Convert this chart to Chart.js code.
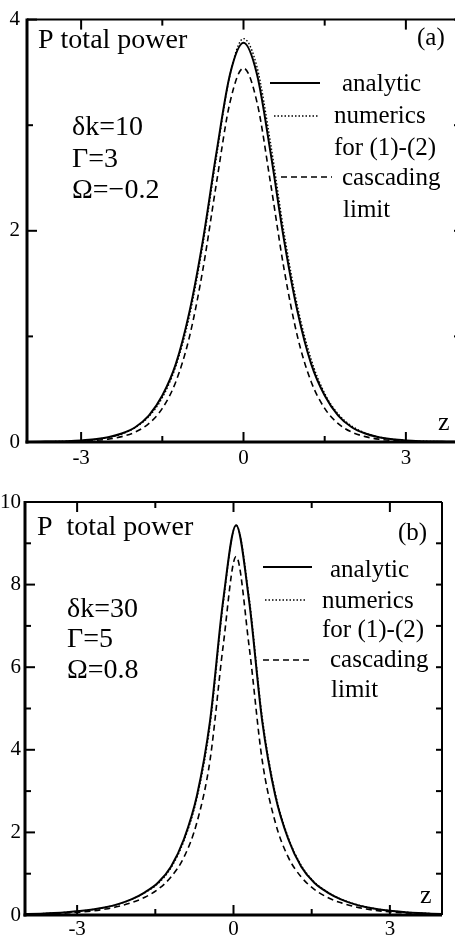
<!DOCTYPE html>
<html>
<head>
<meta charset="utf-8">
<script src="https://cdn.jsdelivr.net/npm/chart.js@4.4.1/dist/chart.umd.min.js"></script>
<style>
  html, body { margin: 0; padding: 0; background: #fff; overflow: hidden; }
  body { width: 455px; height: 939px; position: relative; }
  canvas { position: absolute; left: 0; }
  #chartA { top: 0; }
  #chartB { top: 470px; }
</style>
</head>
<body>
<canvas id="chartA" width="462" height="470"></canvas>
<canvas id="chartB" width="455" height="469"></canvas>
<script>
// panel (a): dk=10, G=3, W=-0.2
const zA = [-4, -3.75, -3.5, -3.25, -3, -2.75, -2.5, -2.25, -2, -1.75, -1.5, -1.25, -1, -0.75, -0.5, -0.25,
  0, 0.25, 0.5, 0.75, 1, 1.25, 1.5, 1.75, 2, 2.25, 2.5, 2.75, 3, 3.25, 3.5, 3.75, 4];
const analyticA = [0.001, 0.003, 0.005, 0.008, 0.014, 0.025, 0.045, 0.08, 0.14, 0.25, 0.44, 0.74, 1.23, 1.91, 2.74, 3.48,
  3.78, 3.48, 2.74, 1.91, 1.23, 0.74, 0.44, 0.25, 0.14, 0.08, 0.045, 0.025, 0.014, 0.008, 0.005, 0.003, 0.001];
const numericsA = [0.0013, 0.0024, 0.0042, 0.0075, 0.013, 0.024, 0.043, 0.076, 0.137, 0.24, 0.42, 0.718, 1.19, 1.87, 2.70, 3.475,
  3.82, 3.55, 2.83, 1.98, 1.28, 0.783, 0.46, 0.265, 0.151, 0.085, 0.047, 0.026, 0.015, 0.0085, 0.0048, 0.0026, 0.0015];
const cascadingA = [0.0006, 0.0012, 0.0022, 0.0042, 0.0078, 0.0146, 0.027, 0.051, 0.094, 0.174, 0.318, 0.571, 0.993, 1.635, 2.451, 3.216,
  3.54, 3.216, 2.451, 1.635, 0.993, 0.571, 0.318, 0.174, 0.094, 0.051, 0.027, 0.0146, 0.0078, 0.0042, 0.0022, 0.0012, 0.0006];

// panel (b): dk=30, G=5, W=0.8
const zB = [-4.2, -3.95, -3.7, -3.45, -3.2, -2.95, -2.7, -2.45, -2.2, -1.95, -1.7, -1.45, -1.2, -0.95, -0.7, -0.45, -0.2,
  0.05, 0.3, 0.55, 0.8, 1.05, 1.3, 1.55, 1.8, 2.05, 2.3, 2.55, 2.8, 3.05, 3.3, 3.55, 3.8, 4.05, 4.3];
const analyticB = [0.016, 0.023, 0.033, 0.047, 0.067, 0.095, 0.135, 0.19, 0.27, 0.385, 0.55, 0.78, 1.17, 1.84, 2.9, 4.7, 7.6,
  9.44, 7.6, 4.7, 2.9, 1.84, 1.17, 0.78, 0.55, 0.385, 0.27, 0.19, 0.135, 0.095, 0.067, 0.047, 0.033, 0.023, 0.016];
const numericsB = [0.016, 0.022, 0.032, 0.046, 0.066, 0.094, 0.133, 0.187, 0.265, 0.38, 0.54, 0.76, 1.14, 1.8, 2.84, 4.6, 7.52,
  9.44, 7.68, 4.8, 2.96, 1.88, 1.2, 0.8, 0.56, 0.39, 0.275, 0.193, 0.137, 0.096, 0.068, 0.048, 0.034, 0.023, 0.016];
const cascadingB = [0.012, 0.017, 0.024, 0.034, 0.049, 0.07, 0.10, 0.145, 0.21, 0.30, 0.43, 0.62, 0.92, 1.4, 2.25, 3.75, 6.5,
  8.68, 6.5, 3.75, 2.25, 1.4, 0.92, 0.62, 0.43, 0.30, 0.21, 0.145, 0.10, 0.07, 0.049, 0.034, 0.024, 0.017, 0.012];

const xTicks = [-3, -1.5, 0, 1.5, 3];
const xMajor = [-3, 0, 3];
const yTicksA = [0, 1, 2, 3, 4];
const yTicksB = [0, 1, 2, 3, 4, 5, 6, 7, 8, 9, 10];

const serif = "'Liberation Serif', 'DejaVu Serif', 'Times New Roman', serif";

function toPoints(xs, ys) {
  return xs.map((x, i) => ({ x, y: ys[i] }));
}

function makeDatasets(z, analytic, numerics, cascading) {
  const common = { pointRadius: 0, fill: false, cubicInterpolationMode: "monotone", borderColor: "#000" };
  return [
    { ...common, label: "cascading limit", data: toPoints(z, cascading), borderWidth: 1.6, borderDash: [6, 4] },
    { ...common, label: "analytic", data: toPoints(z, analytic), borderWidth: 2 },
    { ...common, label: "numerics for (1)-(2)", data: toPoints(z, numerics), borderWidth: 1.4, borderDash: [1.5, 2] },
  ];
}

// box, inward ticks, annotations and hand-drawn legend
const framePlugin = {
  id: "frame",
  afterDatasetsDraw(chart, args, opts) {
    const { ctx, chartArea: a, scales: { x, y } } = chart;
    ctx.save();
    ctx.strokeStyle = "#000";
    ctx.fillStyle = "#000";
    const seg = (x1, y1, x2, y2) => {
      ctx.beginPath();
      ctx.moveTo(x1, y1);
      ctx.lineTo(x2, y2);
      ctx.stroke();
    };
    ctx.lineWidth = 2;
    seg(a.left, a.top, a.right, a.top);
    seg(a.right, a.top, a.right, a.bottom);
    ctx.lineWidth = 3;
    seg(a.left, a.top - 1, a.left, a.bottom + 1.5);
    seg(a.left - 1.5, a.bottom, a.right, a.bottom);

    ctx.lineWidth = 2;
    xTicks.forEach((v) => {
      const px = x.getPixelForValue(v);
      const len = xMajor.includes(v) ? 10 : 6;
      seg(px, a.bottom, px, a.bottom - len);
      seg(px, a.top, px, a.top + len);
    });
    opts.yTicks.forEach((v) => {
      const py = y.getPixelForValue(v);
      const len = v % 2 === 0 ? 10 : 6;
      seg(a.left, py, a.left + len, py);
      seg(a.right, py, a.right - 6, py);
    });

    ctx.textBaseline = "alphabetic";
    opts.texts.forEach((t) => {
      ctx.font = `${t.size}px ${serif}`;
      ctx.fillText(t.text, t.x, t.y);
    });

    opts.legend.forEach((l) => {
      ctx.lineWidth = l.width;
      ctx.setLineDash(l.dash);
      seg(l.x1, l.y, l.x2, l.y);
    });
    ctx.setLineDash([]);
    ctx.restore();
  },
};

function makeChart(id, cfg) {
  return new Chart(document.getElementById(id), {
    type: "line",
    data: { datasets: makeDatasets(cfg.z, cfg.analytic, cfg.numerics, cfg.cascading) },
    options: {
      responsive: false,
      animation: false,
      layout: { padding: cfg.padding },
      plugins: { legend: { display: false }, tooltip: { enabled: false }, frame: cfg.frame },
      scales: {
        x: {
          type: "linear",
          min: -4,
          max: 4,
          grid: { display: false, drawTicks: false },
          border: { display: false },
          afterBuildTicks: (s) => { s.ticks = xTicks.map((v) => ({ value: v })); },
          afterFit: (s) => { s.height = cfg.xHeight; },
          ticks: {
            autoSkip: false,
            maxRotation: 0,
            padding: cfg.xPad,
            color: "#000",
            font: { family: serif, size: 21 },
            callback: (v) => (xMajor.includes(v) ? String(v) : ""),
          },
        },
        y: {
          type: "linear",
          min: 0,
          max: cfg.yMax,
          grid: { display: false, drawTicks: false },
          border: { display: false },
          afterBuildTicks: (s) => { s.ticks = cfg.yTicks.map((v) => ({ value: v })); },
          afterFit: (s) => { s.width = cfg.yWidth; },
          ticks: {
            autoSkip: false,
            padding: cfg.yPad,
            color: "#000",
            font: { family: serif, size: 21 },
            callback: (v) => (v % 2 === 0 ? String(v) : ""),
          },
        },
      },
    },
    plugins: [framePlugin],
  });
}

makeChart("chartA", {
  z: zA, analytic: analyticA, numerics: numericsA, cascading: cascadingA,
  yMax: 4, yTicks: yTicksA,
  padding: { left: 0, top: 13, right: 2, bottom: 0 },
  xHeight: 28, yWidth: 27, xPad: 4, yPad: 7,
  frame: {
    yTicks: yTicksA,
    texts: [
      { text: "P total power", x: 38, y: 48, size: 28 },
      { text: "δk=10", x: 72, y: 135, size: 28 },
      { text: "Γ=3", x: 72, y: 167, size: 28 },
      { text: "Ω=−0.2", x: 72, y: 198, size: 28 },
      { text: "(a)", x: 417, y: 45, size: 25 },
      { text: "analytic", x: 342, y: 91, size: 25 },
      { text: "numerics", x: 334, y: 123, size: 25 },
      { text: "for (1)-(2)", x: 334, y: 155, size: 25 },
      { text: "cascading", x: 342, y: 185, size: 25 },
      { text: "limit", x: 343, y: 217, size: 25 },
      { text: "z", x: 438, y: 430, size: 26 },
    ],
    legend: [
      { x1: 270, x2: 320, y: 83, width: 2, dash: [] },
      { x1: 274, x2: 318, y: 116, width: 1.4, dash: [1.5, 2] },
      { x1: 281, x2: 332, y: 177, width: 1.6, dash: [6, 4] },
    ],
  },
});

makeChart("chartB", {
  z: zB, analytic: analyticB, numerics: numericsB, cascading: cascadingB,
  yMax: 10, yTicks: yTicksB,
  padding: { left: 0, top: 32, right: 13, bottom: 0 },
  xHeight: 24, yWidth: 25, xPad: 2, yPad: 4,
  frame: {
    yTicks: yTicksB,
    texts: [
      { text: "P  total power", x: 37, y: 65, size: 28 },
      { text: "δk=30", x: 67, y: 147, size: 28 },
      { text: "Γ=5", x: 67, y: 177, size: 28 },
      { text: "Ω=0.8", x: 67, y: 208, size: 28 },
      { text: "(b)", x: 398, y: 70, size: 25 },
      { text: "analytic", x: 330, y: 107, size: 25 },
      { text: "numerics", x: 322, y: 138, size: 25 },
      { text: "for (1)-(2)", x: 322, y: 167, size: 25 },
      { text: "cascading", x: 330, y: 197, size: 25 },
      { text: "limit", x: 331, y: 227, size: 25 },
      { text: "z", x: 420, y: 433, size: 26 },
    ],
    legend: [
      { x1: 263, x2: 312, y: 97, width: 2, dash: [] },
      { x1: 265, x2: 307, y: 130, width: 1.4, dash: [1.5, 2] },
      { x1: 263, x2: 313, y: 190, width: 1.6, dash: [6, 4] },
    ],
  },
});
</script>
</body>
</html>
